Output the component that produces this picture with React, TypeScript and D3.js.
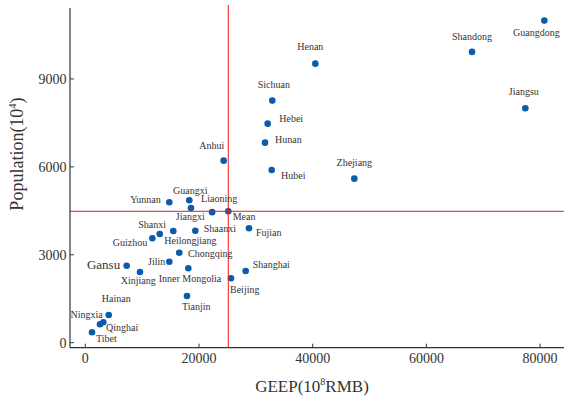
import React from 'react';
import * as d3 from 'd3';

// provinces: GEEP (10^8 RMB) and population (10^4)
const names = [
  'Guangdong', 'Shandong', 'Jiangsu', 'Henan', 'Zhejiang', 'Sichuan', 'Hebei', 'Hunan',
  'Anhui', 'Hubei', 'Guangxi', 'Yunnan', 'Jiangxi', 'Liaoning', 'Mean', 'Shanxi',
  'Guizhou', 'Heilongjiang', 'Shaanxi', 'Fujian', 'Chongqing', 'Jilin', 'Gansu',
  'Xinjiang', 'Inner Mongolia', 'Beijing', 'Shanghai', 'Tianjin', 'Hainan', 'Ningxia',
  'Qinghai', 'Tibet',
];
const geep = [
  80740, 68020, 77400, 40460, 47320, 32890, 32080, 31610,
  24340, 32790, 18290, 14780, 18590, 22310, 25150, 13090,
  11790, 15480, 19350, 28790, 16530, 14780, 7280,
  9620, 18120, 25630, 28210, 17890, 4120, 3170,
  2590, 1180,
];
const population = [
  10990, 9922, 8000, 9522, 5597, 8260, 7474, 6826,
  6212, 5894, 4860, 4792, 4597, 4454, 4484, 3710,
  3563, 3812, 3822, 3904, 3072, 2765, 2628,
  2413, 2539, 2198, 2447, 1594, 945, 696,
  628, 355,
];
const meanGeep = 25150;
const meanPop = 4484;

const xTicks = [0, 20000, 40000, 60000, 80000];
const yTicks = [0, 3000, 6000, 9000];

// label placement relative to each dot
const labelPos: Record<string, [string, number, number]> = {
  Guangdong: ['middle', -8, 15],
  Shandong: ['middle', 0, -12],
  Jiangsu: ['middle', -1.5, -13],
  Henan: ['middle', -5, -14],
  Zhejiang: ['middle', 0, -13],
  Sichuan: ['middle', 1.5, -13],
  Hebei: ['start', 11.6, -1.5],
  Hunan: ['start', 10, 0.5],
  Anhui: ['middle', -12, -12],
  Hubei: ['start', 9.3, 9.5],
  Guangxi: ['middle', 1, -6],
  Yunnan: ['end', -8.6, 1],
  Jiangxi: ['middle', -0.7, 12.5],
  Liaoning: ['middle', 7, -10],
  Mean: ['start', 4.4, 9],
  Shanxi: ['middle', -7.5, -6],
  Guizhou: ['end', -5, 7.7],
  Heilongjiang: ['start', -9, 13],
  Shaanxi: ['start', 8.4, 1.3],
  Fujian: ['start', 7, 8],
  Chongqing: ['start', 8.7, 4.3],
  Jilin: ['end', -4, 3.3],
  Gansu: ['end', -6.5, 3.5],
  Xinjiang: ['middle', -1.7, 12.5],
  'Inner Mongolia': ['middle', 1.7, 14],
  Beijing: ['start', -1, 14.7],
  Shanghai: ['start', 7, -3],
  Tianjin: ['middle', 9.3, 14],
  Hainan: ['middle', 7.5, -13],
  Ningxia: ['end', -0.6, -4.3],
  Qinghai: ['start', 6, 6.7],
  Tibet: ['start', 4, 9.7],
};

const W = 564;
const H = 401;
const font = '"Liberation Serif", "Times New Roman", serif';

export default function App() {
  const x = d3.scaleLinear().domain([-2690, 84200]).range([70, 564]);
  const y = d3.scaleLinear().domain([-170, 11420]).range([347.7, 8]);
  const [x0, x1] = x.range();
  const [y0, y1] = y.range();

  return (
    <svg width={W} height={H} style={{ position: 'absolute', left: 0, top: 0, background: '#fff' }}
      fontFamily={font}>
      {/* points */}
      {names.map((n, i) => (
        <circle key={n} cx={x(geep[i])} cy={y(population[i])} r={3.3} fill="#0a5aad" />
      ))}
      {/* mean lines */}
      <line x1={x(meanGeep)} x2={x(meanGeep)} y1={5} y2={y0} stroke="#f01818" strokeWidth={1} />
      <line x1={x0} x2={x1} y1={y(meanPop)} y2={y(meanPop)} stroke="#f01818" strokeWidth={1} />
      {/* labels */}
      {names.map((n, i) => {
        const [anchor, dx, dy] = labelPos[n];
        return (
          <text key={n} x={x(geep[i]) + dx} y={y(population[i]) + dy} textAnchor={anchor}
            fontSize={n === 'Gansu' ? 13 : 10} fill="#333">{n}</text>
        );
      })}
      {/* axes */}
      <line x1={x0} x2={x0} y1={y1} y2={y0} stroke="#333" strokeWidth={1.2} />
      <line x1={x0} x2={x1} y1={y0} y2={y0} stroke="#333" strokeWidth={1.2} />
      {xTicks.map(t => (
        <g key={t}>
          <line x1={x(t)} x2={x(t)} y1={y0} y2={y0 - 4} stroke="#333" strokeWidth={1} />
          <text x={x(t)} y={363} textAnchor="middle" fontSize={14} fill="#333">{t}</text>
        </g>
      ))}
      {yTicks.map(t => (
        <g key={t}>
          <line x1={x0} x2={x0 + 4} y1={y(t)} y2={y(t)} stroke="#333" strokeWidth={1} />
          <text x={66.5} y={y(t) + 4.8} textAnchor="end" fontSize={14} fill="#333">{t}</text>
        </g>
      ))}
      {/* axis titles */}
      <text x={312} y={392} textAnchor="middle" fontSize={17} fill="#333">
        GEEP(10<tspan fontSize={10} dy={-7}>8</tspan><tspan dy={7}>RMB)</tspan>
      </text>
      <text transform={`translate(23,${154}) rotate(-90)`} textAnchor="middle" fontSize={18} fill="#333">
        Population(10<tspan fontSize={10.5} dy={-7.5}>4</tspan><tspan dy={7.5}>)</tspan>
      </text>
    </svg>
  );
}
